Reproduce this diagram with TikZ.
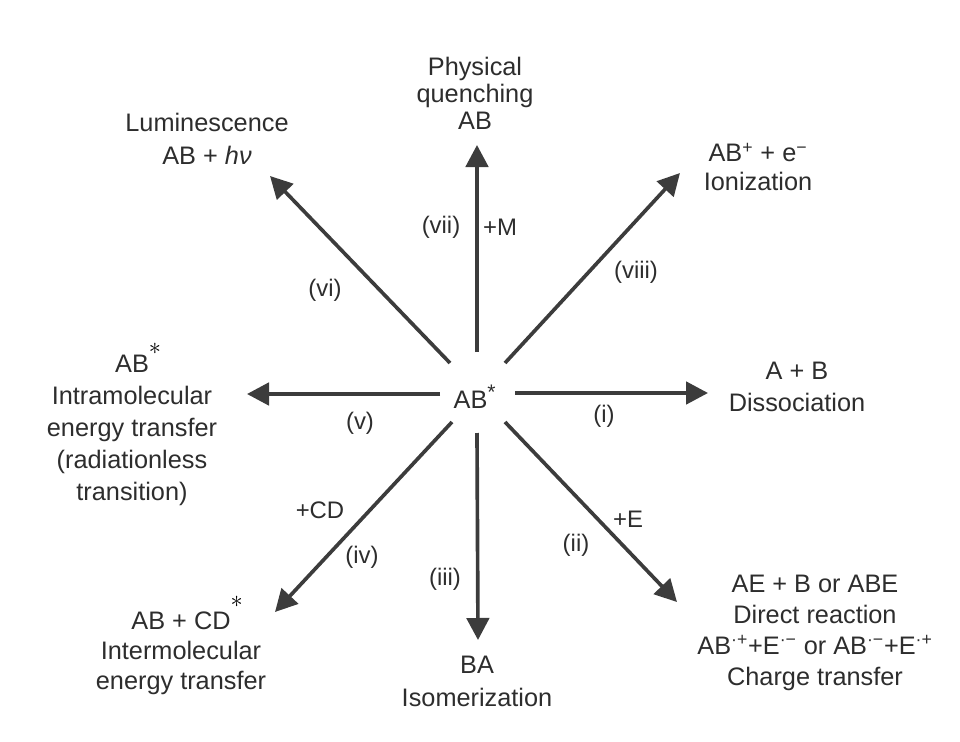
\documentclass[tikz,border=0pt]{standalone}
\usepackage{fontspec}
\setmainfont{Liberation Sans}
\usetikzlibrary{arrows.meta}
\definecolor{inkgray}{RGB}{45,45,45}
\definecolor{arrowgray}{RGB}{60,60,60}
\newcommand{\starmark}[1]{\rlap{\raisebox{#1}{\smash{\color{black}$\ast$}}}}

\begin{document}
\begin{tikzpicture}[x=0.025cm,y=-0.025cm,
  lbl/.style={text=inkgray,align=center,inner sep=0pt,font=\fontsize{18}{#1}\selectfont},
  lbl/.default=21.3,
  tag/.style={text=inkgray,inner sep=0pt,font=\fontsize{17}{20}\selectfont},
  arr/.style={draw=arrowgray,line width=2.6pt,-{Triangle[length=0.55cm,width=0.56cm]}}]
  \useasboundingbox (0,0) rectangle (960,742);

  % 中心
  \node[lbl] (abstar) at (475,397) {AB\textsuperscript{\fontsize{15}{15}\selectfont *}};

  % 各个去向
  \node[lbl=19.2] (quench) at (475,93) {Physical\\quenching\\AB};
  \node[lbl=23] (lumin) at (207,139) {Luminescence\\AB + \textit{hν}};
  \node[lbl=20.6] (ioniz) at (758,167) {AB\textsuperscript{+} + e\textsuperscript{−}\\Ionization};
  \node[lbl=22.8] (dissoc) at (797,387) {A + B\\Dissociation};
  \node[lbl=22.8] (intra) at (132,430) {AB\starmark{0.72em}\\Intramolecular\\energy transfer\\(radiationless\\transition)};
  \node[lbl=21.3] (inter) at (181,651) {AB + CD\starmark{0.85em}\\Intermolecular\\energy transfer};
  \node[lbl=23.5] (isom) at (477,681) {BA\\Isomerization};
  \node[lbl=22.0] (charge) at (815,633) {AE + B or ABE\\Direct reaction\\AB\textsuperscript{·+}+E\textsuperscript{·−} or AB\textsuperscript{·−}+E\textsuperscript{·+}\\Charge transfer};

  % 箭头端点
  \coordinate (sQuench) at (477,352);  \coordinate (tQuench) at (477,145);
  \coordinate (sLumin) at (450,363);   \coordinate (tLumin) at (270,176);
  \coordinate (sIoniz) at (505,363);   \coordinate (tIoniz) at (680,173);
  \coordinate (sDissoc) at (515,393);  \coordinate (tDissoc) at (708,393);
  \coordinate (sIntra) at (440,394);   \coordinate (tIntra) at (247,394);
  \coordinate (sInter) at (452,422);   \coordinate (tInter) at (275,612);
  \coordinate (sIsom) at (477,433);    \coordinate (tIsom) at (478,640);
  \coordinate (sCharge) at (505,422);  \coordinate (tCharge) at (677,602);

  % 箭头
  \draw[arr] (sQuench) -- (tQuench);
  \draw[arr] (sLumin) -- (tLumin);
  \draw[arr] (sIoniz) -- (tIoniz);
  \draw[arr] (sDissoc) -- (tDissoc);
  \draw[arr] (sIntra) -- (tIntra);
  \draw[arr] (sInter) -- (tInter);
  \draw[arr] (sIsom) -- (tIsom);
  \draw[arr] (sCharge) -- (tCharge);

  % 编号与反应物
  \node[tag] (n7) at (441,227) {(vii)};
  \node[tag] (plusM) at (500,227) {+M};
  \node[tag] (n6) at (325,290) {(vi)};
  \node[tag] (n8) at (636,272) {(viii)};
  \node[tag] (n5) at (360,423) {(v)};
  \node[tag] (n1) at (604,416) {(i)};
  \node[tag] (plusCD) at (320,510) {+CD};
  \node[tag] (n4) at (362,557) {(iv)};
  \node[tag] (n3) at (445,579) {(iii)};
  \node[tag] (n2) at (576,545) {(ii)};
  \node[tag] (plusE) at (628,519) {+E};
\end{tikzpicture}
\end{document}
